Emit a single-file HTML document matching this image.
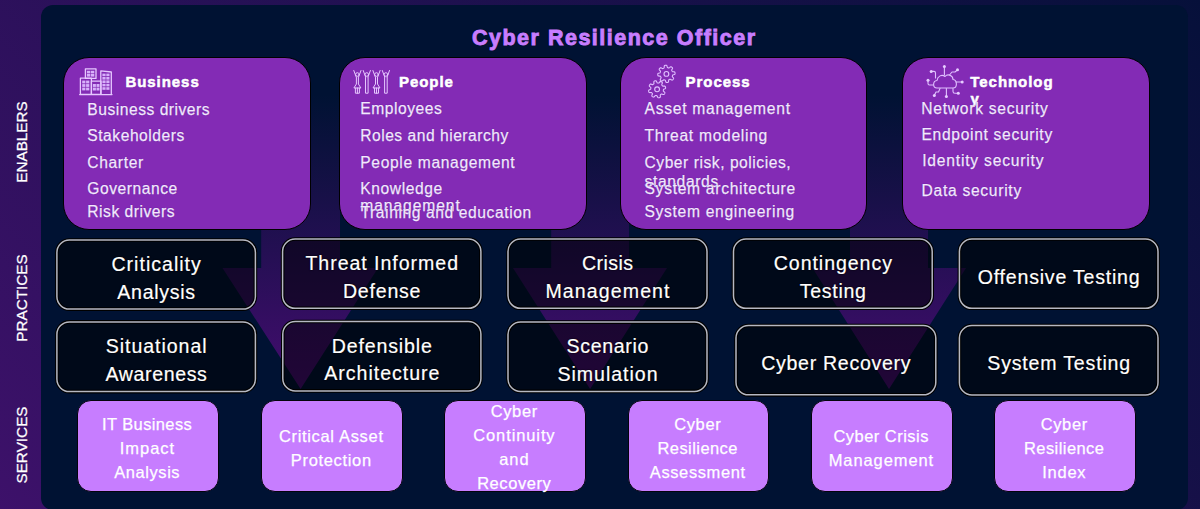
<!DOCTYPE html>
<html><head><meta charset="utf-8">
<style>
html,body{margin:0;padding:0;}
html{background:#06103a;}
body{width:1200px;height:509px;overflow:hidden;position:relative;
 background:linear-gradient(45deg,#3d116a 0%,#06103a 100%);
 font-family:"Liberation Sans",sans-serif;}
.panel{position:absolute;left:41.2px;top:4.7px;width:1146.7px;height:505.3px;background:#001233;border-radius:12px;}
.side{position:absolute;color:#fff;-webkit-text-stroke:0.25px #fff;font-size:15.3px;line-height:18px;white-space:nowrap;transform:rotate(-90deg);transform-origin:center center;width:120px;text-align:center;}
.title{position:absolute;left:472px;top:25.2px;font-size:21.5px;line-height:26px;font-weight:bold;color:#c77dff;letter-spacing:1.5px;-webkit-text-stroke:0.9px #c77dff;text-shadow:0 0 1.5px #000;white-space:nowrap;}
.card{position:absolute;background:#832bb5;border:1.2px solid #000;border-radius:26px;}
.t{position:absolute;white-space:nowrap;}
.hd{color:#fff;font-weight:bold;-webkit-text-stroke:0.55px #fff;text-shadow:0 0 1px #5a1090;}
.it{color:#f3e8ff;-webkit-text-stroke:0.25px #f3e8ff;text-shadow:0 0 1px #4a0a80;}
.pbox{position:absolute;box-sizing:border-box;border:2px solid #a9acb8;border-radius:14px;background:rgba(0,0,0,0.5);box-shadow:0 0 0 1px #000, inset 0 0 0 1px #000;}
.pt{color:#fff;-webkit-text-stroke:0.2px #fff;text-shadow:0 0 1.5px #000,0 0 1px #000;}
.sbox{position:absolute;background:#c77dff;border:1px solid #04040c;border-radius:14px;}
.st{color:#fff;-webkit-text-stroke:0.25px #fff;}
svg{position:absolute;left:0;top:0;}
</style></head><body>
<div class="panel"></div>
<div class="side" style="left:-38.5px;top:132.6px;">ENABLERS</div>
<div class="side" style="left:-38.5px;top:289.3px;">PRACTICES</div>
<div class="side" style="left:-38.5px;top:436px;">SERVICES</div>
<div class="title">Cyber Resilience Officer</div>
<svg width="1200" height="509" viewBox="0 0 1200 509">
 <defs>
  <linearGradient id="ag" gradientUnits="userSpaceOnUse" x1="0" y1="95" x2="0" y2="389">
   <stop offset="0" stop-color="#640a8c" stop-opacity="0"/>
   <stop offset="1" stop-color="#640a8c" stop-opacity="0.68"/>
  </linearGradient>
 </defs>
 <g fill="url(#ag)">
  <path d="M261.2 95 H340 V268 H378 L300.6 389 L222.5 268 H261.2 Z"/>
  <path d="M551.2 95 H629 V268 H667 L590.1 389 L513 268 H551.2 Z"/>
  <path d="M850 95 H928 V268 H966 L889 389 L812.5 268 H850 Z"/>
 </g>
</svg>
<div class="card" style="left:63px;top:57px;width:245.5px;height:171px;"></div>
<div class="card" style="left:339px;top:57px;width:245.5px;height:171px;"></div>
<div class="card" style="left:620px;top:57px;width:245px;height:171px;"></div>
<div class="card" style="left:901.5px;top:57px;width:246.0px;height:171px;"></div>
<div class="t hd" style="left:125.40px;top:72.78px;font-size:15px;line-height:17.25px;letter-spacing:0.95px;">Business</div>
<div class="t hd" style="left:399.00px;top:72.68px;font-size:15px;line-height:17.25px;letter-spacing:0.95px;">People</div>
<div class="t hd" style="left:685.60px;top:72.68px;font-size:15px;line-height:17.25px;letter-spacing:0.95px;">Process</div>
<div class="t hd" style="left:970.30px;top:72.78px;font-size:15px;line-height:17.25px;letter-spacing:0.95px;">Technolog</div>
<div class="t hd" style="left:970.60px;top:89.98px;font-size:15px;line-height:17.25px;letter-spacing:0.95px;">y</div>
<div class="t it" style="top:100.53px;font-size:15.6px;line-height:18.72px;letter-spacing:0.526px;left:87.30px;">Business drivers</div>
<div class="t it" style="top:127.43px;font-size:15.6px;line-height:18.72px;letter-spacing:0.543px;left:87.30px;">Stakeholders</div>
<div class="t it" style="top:154.03px;font-size:15.6px;line-height:18.72px;letter-spacing:0.657px;left:87.30px;">Charter</div>
<div class="t it" style="top:179.83px;font-size:15.6px;line-height:18.72px;letter-spacing:0.552px;left:87.30px;">Governance</div>
<div class="t it" style="top:202.73px;font-size:15.6px;line-height:18.72px;letter-spacing:0.528px;left:87.30px;">Risk drivers</div>
<div class="t it" style="top:100.23px;font-size:15.6px;line-height:18.72px;letter-spacing:0.549px;left:360.20px;">Employees</div>
<div class="t it" style="top:126.73px;font-size:15.6px;line-height:18.72px;letter-spacing:0.521px;left:360.20px;">Roles and hierarchy</div>
<div class="t it" style="top:153.73px;font-size:15.6px;line-height:18.72px;letter-spacing:0.655px;left:360.30px;">People management</div>
<div class="t it" style="top:179.53px;font-size:15.6px;line-height:18.72px;letter-spacing:0.586px;left:360.30px;">Knowledge</div>
<div class="t it" style="top:196.83px;font-size:15.6px;line-height:18.72px;letter-spacing:0.943px;left:360.30px;">management</div>
<div class="t it" style="top:203.73px;font-size:15.6px;line-height:18.72px;letter-spacing:0.602px;left:360.50px;">Training and education</div>
<div class="t it" style="top:99.83px;font-size:15.6px;line-height:18.72px;letter-spacing:0.741px;left:644.50px;">Asset management</div>
<div class="t it" style="top:126.73px;font-size:15.6px;line-height:18.72px;letter-spacing:0.717px;left:644.50px;">Threat modeling</div>
<div class="t it" style="top:153.73px;font-size:15.6px;line-height:18.72px;letter-spacing:0.545px;left:644.50px;">Cyber risk, policies,</div>
<div class="t it" style="top:172.53px;font-size:15.6px;line-height:18.72px;letter-spacing:0.649px;left:644.50px;">standards</div>
<div class="t it" style="top:179.53px;font-size:15.6px;line-height:18.72px;letter-spacing:0.717px;left:644.50px;">System architecture</div>
<div class="t it" style="top:202.93px;font-size:15.6px;line-height:18.72px;letter-spacing:0.699px;left:644.50px;">System engineering</div>
<div class="t it" style="top:99.73px;font-size:15.6px;line-height:18.72px;letter-spacing:0.750px;left:921.30px;">Network security</div>
<div class="t it" style="top:126.23px;font-size:15.6px;line-height:18.72px;letter-spacing:0.692px;left:921.50px;">Endpoint security</div>
<div class="t it" style="top:152.03px;font-size:15.6px;line-height:18.72px;letter-spacing:0.810px;left:922.20px;">Identity security</div>
<div class="t it" style="top:182.33px;font-size:15.6px;line-height:18.72px;letter-spacing:0.726px;left:921.50px;">Data security</div>
<svg width="1200" height="509" viewBox="0 0 1200 509"><rect x="56.90" y="240.00" width="198.50" height="69.10" rx="12.5" fill="rgba(0,0,0,0.5)" stroke="#000" stroke-width="3.6"/><rect x="56.90" y="240.00" width="198.50" height="69.10" rx="12.5" fill="none" stroke="#b6b8c3" stroke-width="1.5"/><rect x="282.60" y="239.00" width="198.30" height="69.30" rx="12.5" fill="rgba(0,0,0,0.5)" stroke="#000" stroke-width="3.6"/><rect x="282.60" y="239.00" width="198.30" height="69.30" rx="12.5" fill="none" stroke="#b6b8c3" stroke-width="1.5"/><rect x="508.00" y="239.00" width="199.00" height="69.30" rx="12.5" fill="rgba(0,0,0,0.5)" stroke="#000" stroke-width="3.6"/><rect x="508.00" y="239.00" width="199.00" height="69.30" rx="12.5" fill="none" stroke="#b6b8c3" stroke-width="1.5"/><rect x="733.50" y="239.00" width="198.70" height="69.30" rx="12.5" fill="rgba(0,0,0,0.5)" stroke="#000" stroke-width="3.6"/><rect x="733.50" y="239.00" width="198.70" height="69.30" rx="12.5" fill="none" stroke="#b6b8c3" stroke-width="1.5"/><rect x="959.40" y="239.00" width="198.60" height="69.30" rx="12.5" fill="rgba(0,0,0,0.5)" stroke="#000" stroke-width="3.6"/><rect x="959.40" y="239.00" width="198.60" height="69.30" rx="12.5" fill="none" stroke="#b6b8c3" stroke-width="1.5"/><rect x="56.90" y="321.90" width="198.50" height="69.70" rx="12.5" fill="rgba(0,0,0,0.5)" stroke="#000" stroke-width="3.6"/><rect x="56.90" y="321.90" width="198.50" height="69.70" rx="12.5" fill="none" stroke="#b6b8c3" stroke-width="1.5"/><rect x="282.80" y="321.50" width="198.10" height="69.40" rx="12.5" fill="rgba(0,0,0,0.5)" stroke="#000" stroke-width="3.6"/><rect x="282.80" y="321.50" width="198.10" height="69.40" rx="12.5" fill="none" stroke="#b6b8c3" stroke-width="1.5"/><rect x="508.00" y="322.10" width="199.00" height="69.30" rx="12.5" fill="rgba(0,0,0,0.5)" stroke="#000" stroke-width="3.6"/><rect x="508.00" y="322.10" width="199.00" height="69.30" rx="12.5" fill="none" stroke="#b6b8c3" stroke-width="1.5"/><rect x="736.00" y="325.50" width="199.80" height="69.35" rx="12.5" fill="rgba(0,0,0,0.5)" stroke="#000" stroke-width="3.6"/><rect x="736.00" y="325.50" width="199.80" height="69.35" rx="12.5" fill="none" stroke="#b6b8c3" stroke-width="1.5"/><rect x="959.40" y="325.50" width="198.60" height="69.50" rx="12.5" fill="rgba(0,0,0,0.5)" stroke="#000" stroke-width="3.6"/><rect x="959.40" y="325.50" width="198.60" height="69.50" rx="12.5" fill="none" stroke="#b6b8c3" stroke-width="1.5"/></svg>
<div class="t pt" style="top:253.08px;font-size:19.57px;line-height:23.48px;letter-spacing:1.005px;left:-43.35px;width:400px;text-align:center;">Criticality</div>
<div class="t pt" style="top:280.78px;font-size:19.57px;line-height:23.48px;letter-spacing:0.676px;left:-43.51px;width:400px;text-align:center;">Analysis</div>
<div class="t pt" style="top:252.18px;font-size:19.57px;line-height:23.48px;letter-spacing:0.956px;left:182.23px;width:400px;text-align:center;">Threat Informed</div>
<div class="t pt" style="top:279.88px;font-size:19.57px;line-height:23.48px;letter-spacing:0.778px;left:182.14px;width:400px;text-align:center;">Defense</div>
<div class="t pt" style="top:252.18px;font-size:19.57px;line-height:23.48px;letter-spacing:0.419px;left:407.71px;width:400px;text-align:center;">Crisis</div>
<div class="t pt" style="top:279.88px;font-size:19.57px;line-height:23.48px;letter-spacing:1.094px;left:408.05px;width:400px;text-align:center;">Management</div>
<div class="t pt" style="top:252.18px;font-size:19.57px;line-height:23.48px;letter-spacing:0.946px;left:633.32px;width:400px;text-align:center;">Contingency</div>
<div class="t pt" style="top:279.88px;font-size:19.57px;line-height:23.48px;letter-spacing:0.685px;left:633.19px;width:400px;text-align:center;">Testing</div>
<div class="t pt" style="top:265.73px;font-size:19.57px;line-height:23.48px;letter-spacing:0.784px;left:859.09px;width:400px;text-align:center;">Offensive Testing</div>
<div class="t pt" style="top:335.28px;font-size:19.57px;line-height:23.48px;letter-spacing:0.946px;left:-43.38px;width:400px;text-align:center;">Situational</div>
<div class="t pt" style="top:362.98px;font-size:19.57px;line-height:23.48px;letter-spacing:0.619px;left:-43.54px;width:400px;text-align:center;">Awareness</div>
<div class="t pt" style="top:334.73px;font-size:19.57px;line-height:23.48px;letter-spacing:0.848px;left:182.27px;width:400px;text-align:center;">Defensible</div>
<div class="t pt" style="top:362.43px;font-size:19.57px;line-height:23.48px;letter-spacing:0.992px;left:182.35px;width:400px;text-align:center;">Architecture</div>
<div class="t pt" style="top:335.28px;font-size:19.57px;line-height:23.48px;letter-spacing:0.671px;left:407.84px;width:400px;text-align:center;">Scenario</div>
<div class="t pt" style="top:362.98px;font-size:19.57px;line-height:23.48px;letter-spacing:0.984px;left:407.99px;width:400px;text-align:center;">Simulation</div>
<div class="t pt" style="top:352.25px;font-size:19.57px;line-height:23.48px;letter-spacing:0.709px;left:636.25px;width:400px;text-align:center;">Cyber Recovery</div>
<div class="t pt" style="top:352.33px;font-size:19.57px;line-height:23.48px;letter-spacing:0.811px;left:859.11px;width:400px;text-align:center;">System Testing</div>
<div class="sbox" style="left:77px;top:400px;width:139.5px;height:89.5px;"></div>
<div class="sbox" style="left:261px;top:400px;width:139.5px;height:89.5px;"></div>
<div class="sbox" style="left:444px;top:400px;width:139.5px;height:89.5px;"></div>
<div class="sbox" style="left:627.5px;top:400px;width:139.5px;height:89.5px;"></div>
<div class="sbox" style="left:811px;top:400px;width:139.5px;height:89.5px;"></div>
<div class="sbox" style="left:994px;top:400px;width:139.5px;height:89.5px;"></div>
<div class="t st" style="top:414.90px;font-size:16.48px;line-height:19.78px;letter-spacing:0.394px;left:-52.85px;width:400px;text-align:center;">IT Business</div>
<div class="t st" style="top:439.10px;font-size:16.48px;line-height:19.78px;letter-spacing:0.981px;left:-52.56px;width:400px;text-align:center;">Impact</div>
<div class="t st" style="top:463.30px;font-size:16.48px;line-height:19.78px;letter-spacing:0.569px;left:-52.77px;width:400px;text-align:center;">Analysis</div>
<div class="t st" style="top:427.00px;font-size:16.48px;line-height:19.78px;letter-spacing:0.681px;left:131.29px;width:400px;text-align:center;">Critical Asset</div>
<div class="t st" style="top:451.20px;font-size:16.48px;line-height:19.78px;letter-spacing:0.675px;left:131.29px;width:400px;text-align:center;">Protection</div>
<div class="t st" style="top:401.79px;font-size:16.48px;line-height:19.78px;letter-spacing:0.653px;left:314.28px;width:400px;text-align:center;">Cyber</div>
<div class="t st" style="top:425.86px;font-size:16.48px;line-height:19.78px;letter-spacing:0.901px;left:314.40px;width:400px;text-align:center;">Continuity</div>
<div class="t st" style="top:449.93px;font-size:16.48px;line-height:19.78px;letter-spacing:0.870px;left:314.38px;width:400px;text-align:center;">and</div>
<div class="t st" style="top:474.00px;font-size:16.48px;line-height:19.78px;letter-spacing:0.574px;left:314.24px;width:400px;text-align:center;">Recovery</div>
<div class="t st" style="top:414.90px;font-size:16.48px;line-height:19.78px;letter-spacing:0.653px;left:497.78px;width:400px;text-align:center;">Cyber</div>
<div class="t st" style="top:439.10px;font-size:16.48px;line-height:19.78px;letter-spacing:0.452px;left:497.68px;width:400px;text-align:center;">Resilience</div>
<div class="t st" style="top:463.30px;font-size:16.48px;line-height:19.78px;letter-spacing:0.622px;left:497.76px;width:400px;text-align:center;">Assessment</div>
<div class="t st" style="top:427.00px;font-size:16.48px;line-height:19.78px;letter-spacing:0.491px;left:681.20px;width:400px;text-align:center;">Cyber Crisis</div>
<div class="t st" style="top:451.20px;font-size:16.48px;line-height:19.78px;letter-spacing:0.922px;left:681.41px;width:400px;text-align:center;">Management</div>
<div class="t st" style="top:414.90px;font-size:16.48px;line-height:19.78px;letter-spacing:0.653px;left:864.28px;width:400px;text-align:center;">Cyber</div>
<div class="t st" style="top:439.10px;font-size:16.48px;line-height:19.78px;letter-spacing:0.452px;left:864.18px;width:400px;text-align:center;">Resilience</div>
<div class="t st" style="top:463.30px;font-size:16.48px;line-height:19.78px;letter-spacing:0.748px;left:864.32px;width:400px;text-align:center;">Index</div>
<svg width="1200" height="509" viewBox="0 0 1200 509" style="pointer-events:none">
 <g fill="none" stroke="#e6c8ff" stroke-width="1.3" stroke-linejoin="round" stroke-linecap="round">
  <!-- buildings -->
  <rect x="85.4" y="68.8" width="10.6" height="9.6"/>
  <rect x="80.4" y="78.2" width="11" height="16.2"/>
  <rect x="91.4" y="81.2" width="9.6" height="13.2"/>
  <path d="M100.8 94.4 V70.8 L111.3 72 V94.4"/>
  <path d="M79.6 94.6 H112"/>
 </g>
 <g fill="#dcb8ff" opacity="0.95">
  <rect x="86.9" y="70.8" width="3.4" height="2.6"/><rect x="90.9" y="70.8" width="3.4" height="2.6"/>
  <rect x="86.9" y="74" width="3.4" height="2.6"/><rect x="90.9" y="74" width="3.4" height="2.6"/>
  <rect x="82.2" y="80.6" width="3.2" height="2.8"/><rect x="86.1" y="80.6" width="3.2" height="2.8"/>
  <rect x="82.2" y="84.1" width="3.2" height="2.8"/><rect x="86.1" y="84.1" width="3.2" height="2.8"/>
  <rect x="82.2" y="87.6" width="3.2" height="2.8"/><rect x="86.1" y="87.6" width="3.2" height="2.8"/>
  <rect x="92.9" y="84" width="3" height="2.9"/><rect x="96.5" y="84" width="3" height="2.9"/>
  <rect x="92.9" y="87.6" width="3" height="2.9"/><rect x="96.5" y="87.6" width="3" height="2.9"/>
  <rect x="102.4" y="73.6" width="3.2" height="2.6"/><rect x="106.3" y="73.6" width="3.2" height="2.6"/>
  <rect x="102.4" y="77" width="3.2" height="2.6"/><rect x="106.3" y="77" width="3.2" height="2.6"/>
  <rect x="102.4" y="80.4" width="3.2" height="2.6"/><rect x="106.3" y="80.4" width="3.2" height="2.6"/>
  <rect x="102.4" y="83.8" width="3.2" height="2.6"/><rect x="106.3" y="83.8" width="3.2" height="2.6"/>
  <rect x="102.4" y="87.2" width="3.2" height="2.6"/><rect x="106.3" y="87.2" width="3.2" height="2.6"/>
 </g>
 <!-- people -->
 <g fill="none" stroke="#e6c8ff" stroke-width="1" stroke-linecap="round" stroke-linejoin="round">
  <g transform="translate(357.4,0)">
   <circle cx="0" cy="74.5" r="1.8"/><path d="M-3.6 70.5 L-1.2 77 M3.6 70.5 L1.2 77"/>
   <path d="M-1 77.5 V84 L-3.5 88 H3.5 L1 84 V77.5"/><path d="M-2 88 V93.2 H2 V88 M0 88 V93.2"/>
  </g>
  <g transform="translate(366.8,0)">
   <circle cx="0" cy="74.5" r="1.8"/><path d="M-3.6 70.5 L-1.2 77 M3.6 70.5 L1.2 77"/>
   <path d="M-1.3 77.5 V93.2 H1.3 V77.5"/>
  </g>
  <g transform="translate(376.5,0)">
   <circle cx="0" cy="74.5" r="1.8"/><path d="M-3.6 70.5 L-1.2 77 M3.6 70.5 L1.2 77"/>
   <path d="M-1 77.5 V84 L-3.5 88 H3.5 L1 84 V77.5"/><path d="M-2 88 V93.2 H2 V88 M0 88 V93.2"/>
  </g>
  <g transform="translate(385.9,0)">
   <circle cx="0" cy="74.5" r="1.8"/><path d="M-3.6 70.5 L-1.2 77 M3.6 70.5 L1.2 77"/>
   <path d="M-1.3 77.5 V93.2 H1.3 V77.5"/>
  </g>
 </g>
 <!-- gears -->
 <g fill="none" stroke="#e0c0ff" stroke-width="1.1" stroke-linejoin="round">
  <path d="M675.00 73.90 L674.83 74.23 L674.27 74.52 L673.38 74.73 L672.86 74.92 L672.67 75.15 L672.58 75.38 L672.51 75.62 L672.44 75.86 L672.37 76.10 L672.32 76.35 L672.36 76.65 L672.73 77.12 L673.35 77.79 L673.61 78.32 L673.55 78.68 L673.39 78.98 L673.19 79.25 L672.98 79.52 L672.74 79.76 L672.48 79.98 L672.13 80.09 L671.53 79.91 L670.75 79.42 L670.24 79.19 L669.95 79.22 L669.72 79.32 L669.50 79.44 L669.28 79.56 L669.06 79.68 L668.85 79.82 L668.67 80.06 L668.59 80.66 L668.56 81.57 L668.37 82.13 L668.08 82.34 L667.75 82.43 L667.42 82.49 L667.08 82.52 L666.74 82.53 L666.40 82.50 L666.07 82.33 L665.78 81.77 L665.57 80.88 L665.38 80.36 L665.15 80.17 L664.92 80.08 L664.68 80.01 L664.44 79.94 L664.20 79.87 L663.95 79.82 L663.65 79.86 L663.18 80.23 L662.51 80.85 L661.98 81.11 L661.62 81.05 L661.32 80.89 L661.05 80.69 L660.78 80.48 L660.54 80.24 L660.32 79.98 L660.21 79.63 L660.39 79.03 L660.88 78.25 L661.11 77.74 L661.08 77.45 L660.98 77.22 L660.86 77.00 L660.74 76.78 L660.62 76.56 L660.48 76.35 L660.24 76.17 L659.64 76.09 L658.73 76.06 L658.17 75.87 L657.96 75.58 L657.87 75.25 L657.81 74.92 L657.78 74.58 L657.77 74.24 L657.80 73.90 L657.97 73.57 L658.53 73.28 L659.42 73.07 L659.94 72.88 L660.13 72.65 L660.22 72.42 L660.29 72.18 L660.36 71.94 L660.43 71.70 L660.48 71.45 L660.44 71.15 L660.07 70.68 L659.45 70.01 L659.19 69.48 L659.25 69.12 L659.41 68.82 L659.61 68.55 L659.82 68.28 L660.06 68.04 L660.32 67.82 L660.67 67.71 L661.27 67.89 L662.05 68.38 L662.56 68.61 L662.85 68.58 L663.08 68.48 L663.30 68.36 L663.52 68.24 L663.74 68.12 L663.95 67.98 L664.13 67.74 L664.21 67.14 L664.24 66.23 L664.43 65.67 L664.72 65.46 L665.05 65.37 L665.38 65.31 L665.72 65.28 L666.06 65.27 L666.40 65.30 L666.73 65.47 L667.02 66.03 L667.23 66.92 L667.42 67.44 L667.65 67.63 L667.88 67.72 L668.12 67.79 L668.36 67.86 L668.60 67.93 L668.85 67.98 L669.15 67.94 L669.62 67.57 L670.29 66.95 L670.82 66.69 L671.18 66.75 L671.48 66.91 L671.75 67.11 L672.02 67.32 L672.26 67.56 L672.48 67.82 L672.59 68.17 L672.41 68.77 L671.92 69.55 L671.69 70.06 L671.72 70.35 L671.82 70.58 L671.94 70.80 L672.06 71.02 L672.18 71.24 L672.32 71.45 L672.56 71.63 L673.16 71.71 L674.07 71.74 L674.63 71.93 L674.84 72.22 L674.93 72.55 L674.99 72.88 L675.02 73.22 L675.03 73.56 Z"/>
  <circle cx="666.4" cy="73.9" r="2.4"/>
  <path d="M663.69 89.30 L663.51 89.55 L663.44 89.80 L663.41 90.05 L663.37 90.29 L663.34 90.54 L663.32 90.79 L663.37 91.07 L663.73 91.45 L664.44 92.01 L664.87 92.52 L664.90 92.90 L664.79 93.22 L664.65 93.53 L664.47 93.82 L664.28 94.10 L664.06 94.36 L663.76 94.55 L663.21 94.52 L662.37 94.17 L661.76 93.96 L661.45 94.01 L661.23 94.14 L661.03 94.29 L660.83 94.44 L660.63 94.59 L660.44 94.75 L660.29 94.99 L660.26 95.51 L660.38 96.41 L660.32 97.07 L660.07 97.36 L659.77 97.51 L659.45 97.62 L659.12 97.71 L658.79 97.78 L658.45 97.80 L658.10 97.72 L657.73 97.31 L657.38 96.47 L657.10 95.89 L656.85 95.71 L656.60 95.64 L656.35 95.61 L656.11 95.57 L655.86 95.54 L655.61 95.52 L655.33 95.57 L654.95 95.93 L654.39 96.64 L653.88 97.07 L653.50 97.10 L653.18 96.99 L652.87 96.85 L652.58 96.67 L652.30 96.48 L652.04 96.26 L651.85 95.96 L651.88 95.41 L652.23 94.57 L652.44 93.96 L652.39 93.65 L652.26 93.43 L652.11 93.23 L651.96 93.03 L651.81 92.83 L651.65 92.64 L651.41 92.49 L650.89 92.46 L649.99 92.58 L649.33 92.52 L649.04 92.27 L648.89 91.97 L648.78 91.65 L648.69 91.32 L648.62 90.99 L648.60 90.65 L648.68 90.30 L649.09 89.93 L649.93 89.58 L650.51 89.30 L650.69 89.05 L650.76 88.80 L650.79 88.55 L650.83 88.31 L650.86 88.06 L650.88 87.81 L650.83 87.53 L650.47 87.15 L649.76 86.59 L649.33 86.08 L649.30 85.70 L649.41 85.38 L649.55 85.07 L649.73 84.78 L649.92 84.50 L650.14 84.24 L650.44 84.05 L650.99 84.08 L651.83 84.43 L652.44 84.64 L652.75 84.59 L652.97 84.46 L653.17 84.31 L653.37 84.16 L653.57 84.01 L653.76 83.85 L653.91 83.61 L653.94 83.09 L653.82 82.19 L653.88 81.53 L654.13 81.24 L654.43 81.09 L654.75 80.98 L655.08 80.89 L655.41 80.82 L655.75 80.80 L656.10 80.88 L656.47 81.29 L656.82 82.13 L657.10 82.71 L657.35 82.89 L657.60 82.96 L657.85 82.99 L658.09 83.03 L658.34 83.06 L658.59 83.08 L658.87 83.03 L659.25 82.67 L659.81 81.96 L660.32 81.53 L660.70 81.50 L661.02 81.61 L661.33 81.75 L661.62 81.93 L661.90 82.12 L662.16 82.34 L662.35 82.64 L662.32 83.19 L661.97 84.03 L661.76 84.64 L661.81 84.95 L661.94 85.17 L662.09 85.37 L662.24 85.57 L662.39 85.77 L662.55 85.96 L662.79 86.11 L663.31 86.14 L664.21 86.02 L664.87 86.08 L665.16 86.33 L665.31 86.63 L665.42 86.95 L665.51 87.28 L665.58 87.61 L665.60 87.95 L665.52 88.30 L665.11 88.67 L664.27 89.02 Z"/>
  <circle cx="657.1" cy="89.3" r="2.4"/>
 </g>
 <!-- cloud network -->
 <g fill="none" stroke="#e0c0ff" stroke-width="1.1" stroke-linecap="round" stroke-linejoin="round">
  <path d="M937 88 C932.5 88 932.5 81 937 80.5 C937.5 76 942 74 945 76.5 C947.5 73.5 953 75 953 79.5 C957.5 80 957.5 88 953 88 Z"/>
  <path d="M944.4 66.5 V75"/>
  <path d="M931.2 71.4 H934 Q935.5 71.4 935.5 73 V78"/>
  <path d="M957.5 69.8 L955 72 H952 L949.5 75"/>
  <path d="M928 80.3 V83.5 Q928 85 929.5 85 H933"/>
  <path d="M962.2 82 H956"/>
  <path d="M934.3 95.5 L936 92 H938.5 L940 88.5"/>
  <path d="M946.4 96.6 V88.5"/>
  <path d="M958.3 93.3 H955 Q953 93.3 953 91.5 V88.5"/>
 </g>
 <g fill="#e6ccff">
  <circle cx="944.4" cy="66.5" r="1.5"/><circle cx="931.2" cy="71.4" r="1.5"/><circle cx="957.5" cy="69.8" r="1.5"/>
  <circle cx="928" cy="80.3" r="1.5"/><circle cx="962.2" cy="82" r="1.5"/><circle cx="934.3" cy="95.5" r="1.5"/>
  <circle cx="946.4" cy="96.6" r="1.5"/><circle cx="958.3" cy="93.3" r="1.5"/>
 </g>
</svg>
</body></html>
